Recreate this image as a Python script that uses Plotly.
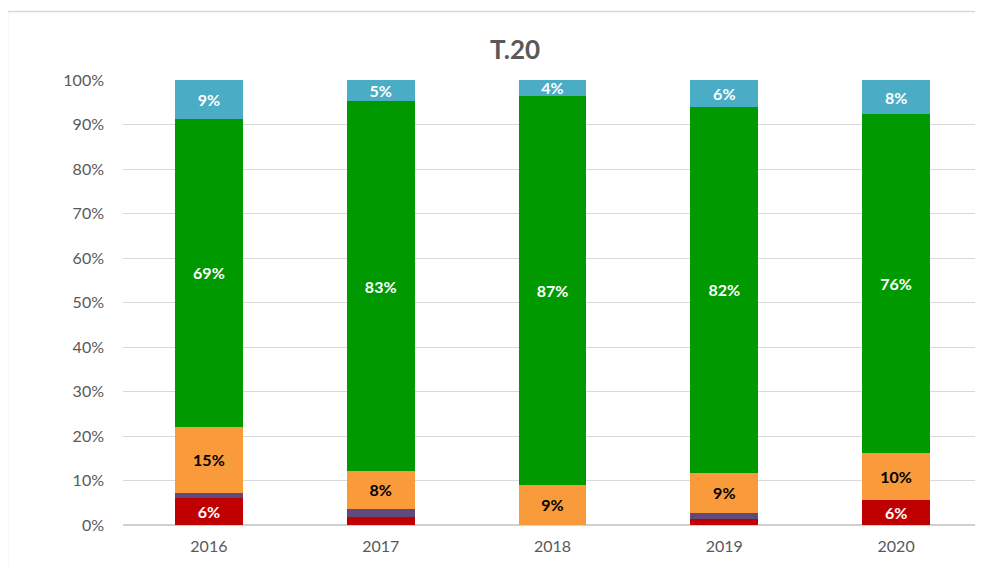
import plotly.graph_objects as go

years = ["2016", "2017", "2018", "2019", "2020"]
red = [6.0, 1.7, 0.0, 1.4, 5.7]
purple = [1.3, 2.0, 0.0, 1.2, 0.0]
orange = [14.8, 8.4, 9.1, 9.2, 10.5]
green = [69.1, 83.2, 87.4, 82.1, 76.2]
blue = [8.8, 4.7, 3.5, 6.1, 7.6]

series = [
    ("red", red, "#c00000", "white"),
    ("purple", purple, "#604a7b", "white"),
    ("orange", orange, "#f99b3a", "black"),
    ("green", green, "#009900", "white"),
    ("blue", blue, "#4bacc6", "white"),
]

def labels(vals, show=True):
    if not show:
        return ["" for _ in vals]
    return [f"{round(v)}%" if v >= 3 else "" for v in vals]

fig = go.Figure()
for name, vals, col, tcol in series:
    fig.add_trace(go.Bar(
        x=years, y=vals, name=name,
        marker=dict(color=col, line=dict(width=0)),
        text=labels(vals, name != "purple"),
        textposition="inside", insidetextanchor="middle", textangle=0,
        textfont=dict(color=tcol, size=16, family="Lato", weight="bold"),
        constraintext="none", cliponaxis=False,
        hoverinfo="skip",
    ))

fig.update_layout(
    barmode="stack",
    width=975, height=559,
    margin=dict(l=115, r=1, t=72, b=42),
    paper_bgcolor="white", plot_bgcolor="white",
    showlegend=False,
    bargap=0.605,
    uniformtext=dict(minsize=16, mode="show"),
    font=dict(family="Lato", color="#595959"),
    title=dict(text="<b>T.20</b>", x=0.52, xanchor="center", y=0.925, yanchor="middle",
               font=dict(size=26, color="#595959", family="Lato")),
    xaxis=dict(showgrid=False, showline=False, ticks="", tickfont=dict(size=16, color="#595959"),
               ticklabelstandoff=10),
    yaxis=dict(range=[0, 100.03], tickvals=[0, 10, 20, 30, 40, 50, 60, 70, 80, 90, 100],
               ticktext=["0%", "10%", "20%", "30%", "40%", "50%", "60%", "70%", "80%", "90%", "100%"],
               showgrid=True, gridcolor="#d9d9d9",
               gridwidth=1, zeroline=True, zerolinecolor="#d0d0d0", zerolinewidth=2,
               showline=False, ticks="", tickfont=dict(size=16, color="#595959"), ticklabelstandoff=18),
    shapes=[dict(type="rect", xref="paper", yref="paper",
                 x0=-0.1345, x1=1.1, y0=-0.2, y1=1.154,
                 line=dict(color="#d9d9d9", width=1.5), fillcolor="rgba(0,0,0,0)", layer="below")],
)

fig.write_html("out.html")
